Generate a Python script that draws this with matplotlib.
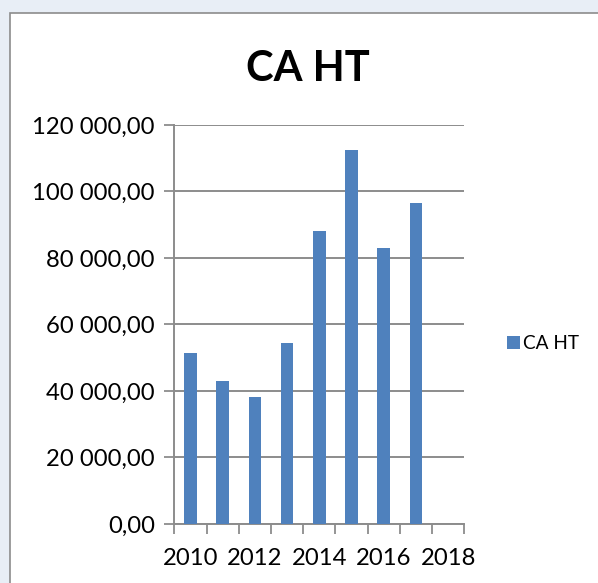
import numpy as np
import matplotlib
matplotlib.use("Agg")
import matplotlib.pyplot as plt
from matplotlib.patches import Rectangle
from matplotlib.ticker import FuncFormatter, FixedLocator

plt.rcParams['font.family'] = ['Lato', 'DejaVu Sans']

# ============================================================
# DATA
# ============================================================
years = [2010, 2011, 2012, 2013, 2014, 2015, 2016, 2017, 2018]
ca_ht = [51500, 43100, 38200, 54300, 88000, 112600, 83000, 96500, np.nan]
year_labels = ['2010', '2012', '2014', '2016', '2018']
y_ticks = [0, 20000, 40000, 60000, 80000, 100000, 120000]

BAR_COLOR = '#4F81BD'
GRID_COLOR = '#8C8C8C'


def fr_number(v, pos=None):
    # French style: space for thousands, comma for decimals
    s = f"{v:,.2f}"
    return s.replace(',', ' ').replace('.', ',')


fig = plt.figure(figsize=(5.98, 5.83), dpi=100)
fig.patch.set_facecolor('#E8EEF6')

# white chart area with grey border (kept behind the axes)
fig.patches.append(Rectangle((10 / 598, -0.01), 1.0, 1.01 - 13 / 583,
                             transform=fig.transFigure, facecolor='white',
                             edgecolor='#8C8C8C', linewidth=1.2, zorder=-5))

ax = fig.add_axes([0.2915, 0.1012, 0.7764 - 0.2915, 0.7856 - 0.1012])
ax.set_facecolor('none')

x = np.arange(len(years))
ax.bar(x, ca_ht, width=0.39, color=BAR_COLOR, label='CA HT', zorder=3)

ax.set_xlim(-0.5, len(years) - 0.5)
ax.set_ylim(0, 120000)

# category labels every two years, tick marks at category boundaries
label_pos = [years.index(int(lbl)) for lbl in year_labels]
ax.set_xticks(label_pos)
ax.set_xticklabels(year_labels)
ax.tick_params(axis='x', which='major', length=0, pad=17, labelsize=17.2)
ax.xaxis.set_minor_locator(FixedLocator(np.arange(-0.5, len(years), 1.0)))
ax.tick_params(axis='x', which='minor', length=7, width=1.3, color=GRID_COLOR)

ax.set_yticks(y_ticks)
ax.yaxis.set_major_formatter(FuncFormatter(fr_number))
ax.tick_params(axis='y', length=7, width=1.3, color=GRID_COLOR, pad=7,
               labelsize=17.2)

ax.grid(axis='y', color=GRID_COLOR, linewidth=1.4, zorder=1)
ax.set_axisbelow(True)
for side in ['top', 'right']:
    ax.spines[side].set_visible(False)
for side in ['left', 'bottom']:
    ax.spines[side].set_color(GRID_COLOR)
    ax.spines[side].set_linewidth(1.4)

fig.text(308 / 598, 1 - 69 / 583, 'CA HT', ha='center', va='center',
         fontsize=30, fontweight='bold')

ax.legend(loc='center left', bbox_to_anchor=(1.12, 0.452), frameon=False,
          fontsize=13.7, handlelength=0.68, handleheight=0.68,
          handletextpad=0.2, borderaxespad=0)

fig.savefig('out.png', dpi=100, facecolor=fig.get_facecolor())
